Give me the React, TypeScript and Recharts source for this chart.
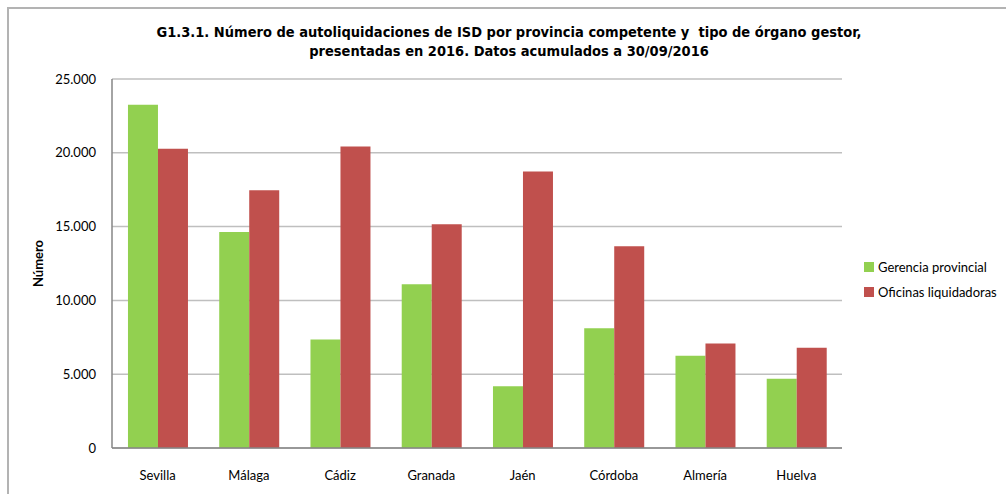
import React from "react";
import { BarChart, Bar, XAxis, YAxis, CartesianGrid, Legend } from "recharts";

const provincias = ["Sevilla", "Málaga", "Cádiz", "Granada", "Jaén", "Córdoba", "Almería", "Huelva"];
const gerenciaProvincial = [23250, 14640, 7350, 11100, 4190, 8120, 6250, 4690];
const oficinasLiquidadoras = [20280, 17460, 20430, 15160, 18740, 13670, 7080, 6790];
const yTicks = [0, 5000, 10000, 15000, 20000, 25000];

const data = provincias.map((p, i) => ({
  name: p,
  gerencia: gerenciaProvincial[i],
  oficinas: oficinasLiquidadoras[i],
}));

const fmt = (v: number) => String(v).replace(/\B(?=(\d{3})+(?!\d))/g, ".");

const FONT = "Lato, 'Open Sans', sans-serif";
const LEGEND_W = 142;

const LegendContent = () => (
  <div style={{ fontFamily: FONT, fontSize: 13, color: "#000", width: LEGEND_W }}>
    {[
      { label: "Gerencia provincial", color: "#92d050" },
      { label: "Oficinas liquidadoras", color: "#c0504d" },
    ].map((it, i) => (
      <div key={i} style={{ display: "flex", alignItems: "center", height: 25 }}>
        <span style={{ display: "inline-block", width: 10, height: 10, background: it.color, marginRight: 4 }} />
        <span>{it.label}</span>
      </div>
    ))}
  </div>
);

export default function App() {
  return (
    <div style={{ position: "absolute", left: 0, top: 0, width: 1006, height: 494, background: "#fff", overflow: "hidden" }}>
      <div style={{ position: "absolute", left: 7, top: 7, width: 1100, height: 600, borderTop: "2px solid #b3b3b3", borderLeft: "2px solid #b3b3b3" }} />
      <div
        style={{
          position: "absolute",
          left: 0,
          top: 23,
          width: 1006,
          textAlign: "center",
          fontFamily: "'DejaVu Sans', sans-serif",
          fontStretch: "condensed",
          fontWeight: "bold",
          fontSize: 14.5,
          lineHeight: "19px",
          color: "#000",
          paddingLeft: 12,
          boxSizing: "border-box",
        }}
      >
        G1.3.1. Número de autoliquidaciones de ISD por provincia competente y&nbsp; tipo de órgano gestor,
        <br />
        presentadas en 2016. Datos acumulados a 30/09/2016
      </div>
      <BarChart
        width={1006}
        height={494}
        data={data}
        margin={{ top: 79, right: 164 - LEGEND_W, bottom: 16, left: 0 }}
        barGap={0}
        barCategoryGap="17.5%"
        style={{ position: "absolute", left: 0, top: 0 }}
      >
        <CartesianGrid vertical={false} stroke="#bfbfbf" strokeWidth={1.5} />
        <XAxis
          dataKey="name"
          height={30}
          tickLine={false}
          axisLine={{ stroke: "#868686", strokeWidth: 1.5 }}
          tick={{ fill: "#000", fontSize: 13, fontFamily: FONT }}
          tickSize={0}
          tickMargin={23}
        />
        <YAxis
          width={112}
          domain={[0, 25000]}
          ticks={yTicks}
          tickFormatter={fmt}
          tickLine={false}
          axisLine={{ stroke: "#868686", strokeWidth: 1.5 }}
          tick={{ fill: "#000", fontSize: 13, fontFamily: FONT }}
          tickSize={0}
          tickMargin={16}
          label={{
            value: "Número",
            angle: -90,
            position: "insideLeft",
            offset: 38,
            style: { textAnchor: "middle", fontFamily: FONT, fontWeight: "bold", fontSize: 13, fill: "#000" },
          }}
        />
        <Legend
          layout="vertical"
          verticalAlign="middle"
          align="right"
          content={<LegendContent />}
          wrapperStyle={{ left: 864, top: 254, width: LEGEND_W, right: "auto" }}
        />
        <Bar dataKey="gerencia" name="Gerencia provincial" fill="#92d050" isAnimationActive={false} />
        <Bar dataKey="oficinas" name="Oficinas liquidadoras" fill="#c0504d" isAnimationActive={false} />
      </BarChart>
    </div>
  );
}
